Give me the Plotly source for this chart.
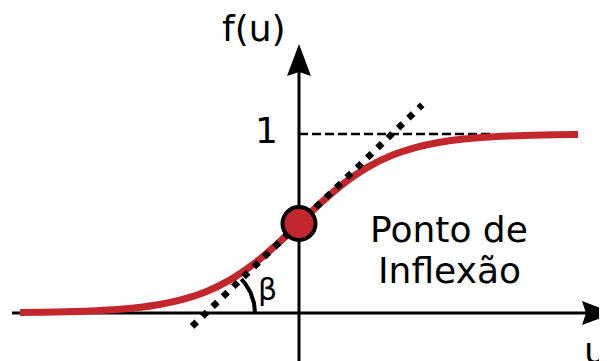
import numpy as np
import plotly.graph_objects as go

# ---- data ----
u_vals = [-6.0, -5.5, -5.0, -4.5, -4.0, -3.5, -3.0, -2.5, -2.0, -1.5, -1.0, -0.5,
          0.0, 0.5, 1.0, 1.5, 2.0, 2.5, 3.0, 3.5, 4.0, 4.5, 5.0, 5.5, 6.0]
f_vals = [0.0025, 0.0041, 0.0067, 0.0110, 0.0180, 0.0293, 0.0474, 0.0759, 0.1192,
          0.1824, 0.2689, 0.3775, 0.5000, 0.6225, 0.7311, 0.8176, 0.8808, 0.9241,
          0.9526, 0.9707, 0.9820, 0.9890, 0.9933, 0.9959, 0.9975]
inflection_u = [0.0]
inflection_f = [0.5]
tangent_u = [-2.3, 2.65]
tangent_f = [-0.075, 1.1625]
asymptote_u = [0.0, 4.15]
asymptote_f = [1.0, 1.0]
tangent_root_u = -2.0          # where the tangent meets the u axis
label_y_axis = "f(u)"
label_x_axis = "u"
label_one = "1"
label_angle = "β"
label_point = ["Ponto de", "Inflexão"]

# ---- geometry of the canvas ----
W, H = 607, 361
PAGE_OFFSET = 8                # default body margin of the html page
X0_PX, Y0_PX = 299, 313        # pixel of the origin (window coordinates)
PX_U, PX_F = 46.5, 179.0       # pixels per unit

def du(px):   # pixel distance -> u units
    return px / PX_U

def df(px):   # pixel distance -> f units
    return px / PX_F

def pu(x):    # window pixel x -> u
    return (x - X0_PX) / PX_U

def pf(y):    # window pixel y -> f
    return (Y0_PX - y) / PX_F

RED = "#C1272D"
FONT = "DejaVu Sans"

fig = go.Figure()

# axes lines + arrowheads (below traces)
x_start, x_tip = pu(12), pu(614)
y_bottom, y_tip = pf(370), pf(44)
A_LEN, A_HALF, A_NOTCH = 32, 12, 4

shapes = [
    dict(type="line", xref="x", yref="y", x0=x_start, y0=0, x1=x_tip - du(A_LEN - A_NOTCH), y1=0,
         line=dict(color="black", width=3), layer="below"),
    dict(type="line", xref="x", yref="y", x0=0, y0=y_bottom, x1=0, y1=y_tip - df(A_LEN - A_NOTCH),
         line=dict(color="black", width=3), layer="below"),
]
xa = (f"M{x_tip},0 L{x_tip - du(A_LEN)},{df(A_HALF)} L{x_tip - du(A_LEN - A_NOTCH)},0 "
      f"L{x_tip - du(A_LEN)},{-df(A_HALF)} Z")
ya = (f"M0,{y_tip} L{du(A_HALF)},{y_tip - df(A_LEN)} L0,{y_tip - df(A_LEN - A_NOTCH)} "
      f"L{-du(A_HALF)},{y_tip - df(A_LEN)} Z")
for p in (xa, ya):
    shapes.append(dict(type="path", xref="x", yref="y", path=p,
                       fillcolor="black", line=dict(color="black", width=0), layer="below"))

# asymptote dashed line
fig.add_trace(go.Scatter(x=asymptote_u, y=asymptote_f, mode="lines",
                         line=dict(color="black", width=2.5, dash="9px,4px"),
                         hoverinfo="skip"))
# sigmoid curve
fig.add_trace(go.Scatter(x=u_vals, y=f_vals, mode="lines", line_shape="spline",
                         line=dict(color=RED, width=7), hoverinfo="skip"))
# tangent dotted line
fig.add_trace(go.Scatter(x=tangent_u, y=tangent_f, mode="lines",
                         line=dict(color="black", width=6.5, dash="6.5px,7.8px"),
                         hoverinfo="skip"))
# angle arc
r_px = 49
slope_px = (tangent_f[1] - tangent_f[0]) / (tangent_u[1] - tangent_u[0]) * PX_F / PX_U
t = np.linspace(0, np.arctan(slope_px), 40)
fig.add_trace(go.Scatter(x=tangent_root_u + du(r_px * np.cos(t)), y=df(r_px * np.sin(t)),
                         mode="lines", line=dict(color="black", width=4), hoverinfo="skip"))
# inflection point
fig.add_trace(go.Scatter(x=inflection_u, y=inflection_f, mode="markers",
                         marker=dict(size=33, color=RED, line=dict(color="black", width=4)),
                         hoverinfo="skip"))

def label(text, x, y, size=36):
    fig.add_annotation(text=text, x=pu(x), y=pf(y), xref="x", yref="y", showarrow=False,
                       xanchor="center", yanchor="middle",
                       font=dict(family=FONT, size=size, color="black"))

label(label_y_axis, 254, 28)
label(label_one, 266, 130)
label(label_point[0], 449, 229)
label(label_point[1], 449, 270)
label(label_angle, 267, 289, size=30)
label(label_x_axis, 595, 350)

fig.update_layout(
    width=W, height=H, margin=dict(l=0, r=0, t=0, b=0),
    paper_bgcolor="white", plot_bgcolor="white", showlegend=False,
    xaxis=dict(range=[pu(PAGE_OFFSET), pu(W + PAGE_OFFSET)], visible=False, fixedrange=True),
    yaxis=dict(range=[pf(H + PAGE_OFFSET), pf(PAGE_OFFSET)], visible=False, fixedrange=True),
    shapes=shapes,
)
fig.write_html("out.html")
